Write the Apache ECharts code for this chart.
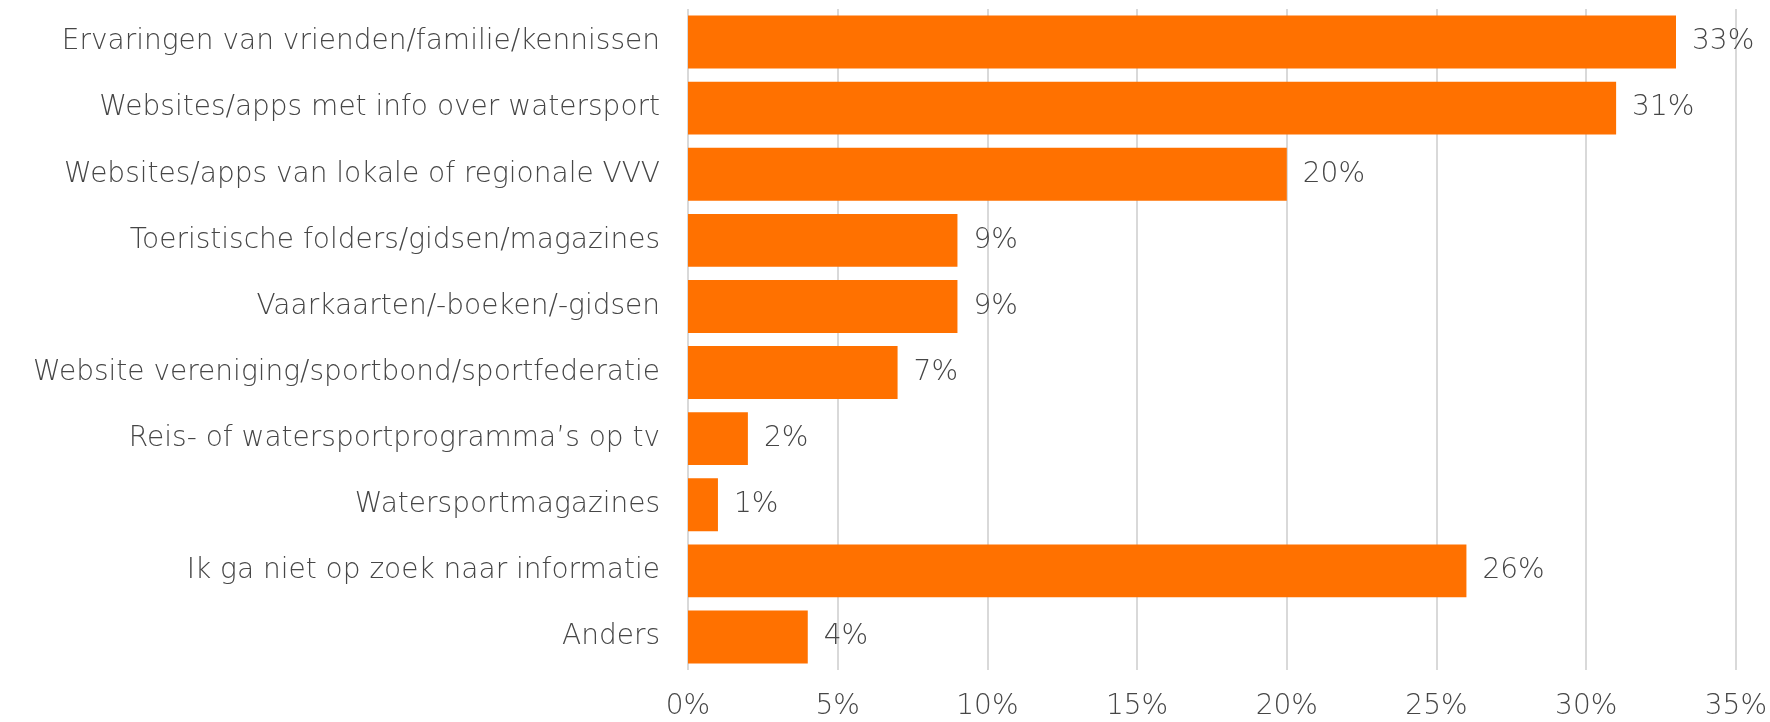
<!DOCTYPE html>
<html>
<head>
<meta charset="utf-8">
<script src="https://cdn.jsdelivr.net/npm/echarts@6/dist/echarts.min.js"></script>
<style>
  html, body { margin: 0; padding: 0; background: #ffffff; }
  #chart { width: 1770px; height: 722px; }
</style>
</head>
<body>
<div id="chart"></div>
<script>
// Informatiebronnen bij het kiezen van een watersportlocatie
const categories = [
  'Ervaringen van vrienden/familie/kennissen',
  'Websites/apps met info over watersport',
  'Websites/apps van lokale of regionale VVV',
  'Toeristische folders/gidsen/magazines',
  'Vaarkaarten/-boeken/-gidsen',
  'Website vereniging/sportbond/sportfederatie',
  'Reis- of watersportprogramma\u2019s op tv',
  'Watersportmagazines',
  'Ik ga niet op zoek naar informatie',
  'Anders'
];
const values = [33, 31, 20, 9, 9, 7, 2, 1, 26, 4];   // percentages
const axisMax = 35;
const axisStep = 5;

const textColor = '#464646';
const fontFamily = '"DejaVu Sans", sans-serif';
const fontWeight = 300;

const chart = echarts.init(document.getElementById('chart'));
chart.setOption({
  animation: false,
  backgroundColor: '#ffffff',
  grid: { left: 688, right: 31, top: 9, bottom: 52, containLabel: false },
  xAxis: {
    type: 'value',
    min: 0,
    max: axisMax,
    interval: axisStep,
    axisLine: { show: false },
    axisTick: { show: false },
    axisLabel: {
      formatter: v => v + '%',
      color: textColor,
      fontFamily: fontFamily,
      fontWeight: fontWeight,
      fontSize: 28,
      margin: 23
    },
    splitLine: { lineStyle: { color: '#d9d9d9', width: 2 } }
  },
  yAxis: {
    type: 'category',
    data: categories,
    inverse: true,
    axisLine: { show: false },
    axisTick: { show: false },
    axisLabel: {
      color: textColor,
      fontFamily: fontFamily,
      fontWeight: fontWeight,
      fontSize: 28,
      margin: 28
    }
  },
  series: [{
    type: 'bar',
    data: values,
    barCategoryGap: '20%',
    itemStyle: { color: '#ff7100' },
    label: {
      show: true,
      position: 'right',
      distance: 16,
      formatter: p => p.value + '%',
      color: textColor,
      fontFamily: fontFamily,
      fontWeight: fontWeight,
      fontSize: 28
    }
  }]
});
</script>
</body>
</html>
